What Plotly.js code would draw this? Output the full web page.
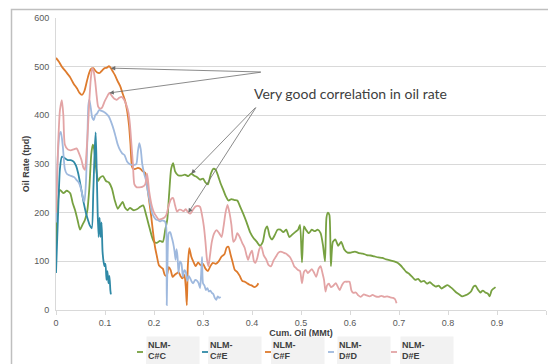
<!DOCTYPE html>
<html>
<head>
<meta charset="utf-8">
<script src="https://cdn.plot.ly/plotly-3.0.1.min.js"></script>
<style>
  html, body { margin: 0; padding: 0; background: #ffffff; }
  #chart { width: 548px; height: 364px; }
</style>
</head>
<body>
<div id="chart"></div>
<script>
// Cumulative oil (MMt) vs oil rate (tpd) for five wells
const seriesNames = ["NLM-C#C", "NLM-C#E", "NLM-C#F", "NLM-D#D", "NLM-D#E"];
const legendLabels = ["NLM-<br>C#C", "NLM-<br>C#E", "NLM-<br>C#F", "NLM-<br>D#D", "NLM-<br>D#E"];
const seriesColors = ["#77a141", "#2f89a6", "#de7b2d", "#9fb9de", "#e3a4a5"];

const xTicks = [0, 0.1, 0.2, 0.3, 0.4, 0.5, 0.6, 0.7, 0.8, 0.9, 1];
const xTickText = ["0", "0.1", "0.2", "0.3", "0.4", "0.5", "0.6", "0.7", "0.8", "0.9", "1"];
const yTicks = [0, 100, 200, 300, 400, 500, 600];

const cumCC = [0.000,0.004,0.008,0.015,0.022,0.029,0.034,0.039,0.044,0.049,0.054,0.059,0.064,0.068,0.072,0.075,0.078,0.082,0.086,0.090,0.096,0.102,0.108,0.114,0.120,0.126,0.131,0.136,0.141,0.146,0.151,0.158,0.165,0.172,0.178,0.184,0.190,0.196,0.200,0.206,0.212,0.218,0.223,0.227,0.231,0.235,0.239,0.243,0.249,0.256,0.263,0.270,0.276,0.282,0.288,0.294,0.300,0.305,0.310,0.316,0.321,0.326,0.331,0.336,0.341,0.346,0.352,0.358,0.364,0.370,0.376,0.382,0.389,0.396,0.403,0.410,0.416,0.422,0.427,0.431,0.436,0.441,0.447,0.452,0.458,0.464,0.470,0.476,0.482,0.488,0.494,0.498,0.502,0.506,0.510,0.516,0.522,0.528,0.534,0.540,0.545,0.549,0.552,0.555,0.558,0.561,0.565,0.570,0.576,0.582,0.588,0.595,0.602,0.610,0.618,0.626,0.634,0.642,0.650,0.658,0.666,0.674,0.682,0.690,0.697,0.703,0.709,0.715,0.721,0.727,0.733,0.739,0.745,0.751,0.757,0.763,0.769,0.775,0.781,0.787,0.793,0.799,0.805,0.811,0.817,0.823,0.829,0.835,0.841,0.847,0.852,0.856,0.861,0.866,0.871,0.876,0.881,0.885,0.889,0.893,0.897];
const rateCC = [130,225,247,240,245,240,220,205,185,165,175,185,205,250,320,340,330,290,265,272,275,265,262,250,225,208,215,222,210,205,210,205,207,212,215,195,172,150,140,138,142,140,165,185,240,290,302,285,277,276,278,275,280,276,273,268,270,262,258,280,290,288,275,260,248,235,225,228,226,225,212,198,180,160,148,140,132,140,165,172,152,145,155,165,165,160,165,150,155,160,165,175,98,172,165,158,165,162,165,158,132,100,190,200,195,90,140,145,132,140,125,118,118,120,117,116,113,112,110,108,107,104,102,100,97,92,85,78,74,68,62,64,58,60,54,57,52,48,50,44,48,51,47,42,36,32,28,30,33,38,48,50,42,36,40,36,34,28,40,44,47];

const cumCE = [0.000,0.004,0.008,0.012,0.018,0.024,0.030,0.036,0.041,0.045,0.049,0.053,0.057,0.061,0.065,0.069,0.073,0.076,0.079,0.081,0.083,0.085,0.087,0.089,0.091,0.093,0.095,0.097,0.099,0.101,0.103,0.105,0.107,0.109,0.111,0.112];
const rateCE = [76,190,290,315,312,308,308,305,296,282,262,240,218,200,186,174,168,240,330,365,290,200,150,190,150,180,120,100,90,95,62,80,55,70,40,32];

const cumCF = [0.000,0.006,0.012,0.020,0.029,0.036,0.043,0.048,0.053,0.058,0.063,0.067,0.071,0.076,0.080,0.084,0.089,0.094,0.099,0.104,0.108,0.112,0.116,0.120,0.126,0.131,0.136,0.141,0.145,0.149,0.152,0.155,0.158,0.162,0.167,0.172,0.177,0.182,0.186,0.190,0.194,0.198,0.202,0.206,0.210,0.214,0.218,0.222,0.226,0.230,0.234,0.238,0.242,0.246,0.250,0.254,0.258,0.262,0.265,0.267,0.269,0.272,0.276,0.280,0.285,0.290,0.295,0.300,0.305,0.310,0.315,0.320,0.326,0.332,0.338,0.344,0.348,0.352,0.356,0.360,0.365,0.370,0.375,0.380,0.385,0.390,0.395,0.400,0.405,0.410,0.413];
const rateCF = [518,510,500,490,478,465,455,446,442,450,470,485,495,497,492,488,487,492,497,498,501,497,490,483,470,460,445,430,410,380,340,295,290,290,292,290,285,282,255,225,195,160,130,110,92,88,85,72,70,88,82,68,72,75,78,70,65,72,45,10,90,127,110,100,90,98,92,95,85,80,90,97,95,100,110,115,128,130,115,100,82,78,70,60,58,55,52,50,47,50,55];

const cumDD = [0.000,0.003,0.007,0.010,0.014,0.018,0.022,0.027,0.032,0.037,0.042,0.047,0.052,0.055,0.058,0.061,0.064,0.066,0.068,0.071,0.074,0.077,0.080,0.084,0.088,0.093,0.098,0.103,0.108,0.113,0.118,0.122,0.126,0.130,0.135,0.140,0.145,0.150,0.155,0.160,0.164,0.167,0.170,0.173,0.176,0.180,0.184,0.188,0.192,0.196,0.200,0.204,0.208,0.212,0.216,0.220,0.223,0.225,0.226,0.228,0.230,0.233,0.236,0.239,0.242,0.244,0.246,0.248,0.250,0.253,0.256,0.259,0.262,0.265,0.268,0.271,0.274,0.277,0.280,0.284,0.288,0.291,0.294,0.296,0.298,0.300,0.303,0.306,0.309,0.312,0.315,0.318,0.321,0.324,0.327,0.330,0.333,0.336];
const rateDD = [180,300,360,366,335,290,280,277,275,273,267,261,245,230,222,260,350,420,432,415,395,390,400,404,411,409,407,403,397,385,370,355,340,330,322,318,305,300,298,298,300,325,343,330,300,280,265,240,220,200,191,186,185,182,184,183,181,170,10,120,158,160,150,138,120,103,125,110,76,100,95,68,82,78,60,70,65,58,55,62,60,55,45,70,109,55,50,41,45,38,40,35,33,25,21,28,25,27];

const cumDE = [0.000,0.004,0.008,0.012,0.015,0.018,0.024,0.030,0.036,0.042,0.047,0.052,0.056,0.059,0.062,0.065,0.068,0.071,0.074,0.077,0.080,0.083,0.086,0.090,0.094,0.099,0.104,0.109,0.114,0.119,0.124,0.129,0.134,0.139,0.144,0.148,0.151,0.154,0.157,0.160,0.165,0.170,0.176,0.182,0.186,0.190,0.196,0.200,0.205,0.210,0.215,0.220,0.225,0.230,0.235,0.239,0.243,0.247,0.251,0.255,0.260,0.265,0.270,0.274,0.279,0.284,0.289,0.294,0.298,0.302,0.305,0.308,0.311,0.314,0.318,0.323,0.328,0.333,0.338,0.342,0.346,0.350,0.354,0.358,0.362,0.366,0.370,0.375,0.380,0.385,0.389,0.392,0.396,0.400,0.404,0.407,0.411,0.415,0.419,0.424,0.429,0.434,0.439,0.444,0.449,0.454,0.459,0.464,0.469,0.474,0.478,0.482,0.486,0.490,0.494,0.498,0.502,0.506,0.510,0.514,0.518,0.522,0.526,0.531,0.536,0.540,0.544,0.547,0.550,0.553,0.557,0.561,0.566,0.571,0.575,0.579,0.584,0.589,0.594,0.599,0.603,0.607,0.612,0.617,0.622,0.628,0.634,0.640,0.646,0.652,0.658,0.664,0.670,0.676,0.682,0.688,0.692,0.695];
const rateDE = [200,330,410,431,400,340,330,328,330,332,322,308,292,288,320,370,430,475,497,490,470,440,418,414,416,428,438,446,440,434,432,436,438,432,420,405,380,340,300,258,252,252,253,258,280,245,212,200,192,186,187,189,195,215,228,230,215,202,206,206,203,207,200,198,205,212,214,212,195,170,140,105,90,110,140,158,164,158,150,172,200,216,200,175,140,145,158,150,138,128,112,103,115,122,100,97,108,125,130,112,104,92,90,102,110,118,120,118,116,112,108,100,90,86,82,80,55,78,82,76,80,84,78,68,85,90,75,62,38,50,54,47,50,55,48,41,52,58,58,58,40,35,36,30,27,32,30,28,31,28,27,29,27,28,26,25,22,14];

const cumSeries = [cumCC, cumCE, cumCF, cumDD, cumDE];
const rateSeries = [rateCC, rateCE, rateCF, rateDD, rateDE];

// plot-area geometry in pixels, used to place the custom legend and frame
const W = 548, H = 364;
const M = { l: 56, r: 2, t: 18, b: 54 };
const plotW = W - M.l - M.r, plotH = H - M.t - M.b;
const px2x = p => (p - M.l) / plotW;
const py2y = p => (H - M.b - p) / plotH;

const traces = cumSeries.map((xs, i) => ({
  type: "scatter",
  mode: "lines",
  name: seriesNames[i],
  x: xs,
  y: rateSeries[i],
  line: { color: seriesColors[i], width: 1.8, shape: "spline", smoothing: 0.6 },
  showlegend: false,
  hoverinfo: "x+y+name"
}));

// nearest recorded point of a series to a given cumulative value
function pointAt(idx, xv) {
  const xs = cumSeries[idx], ys = rateSeries[idx];
  let best = 0;
  xs.forEach((v, k) => { if (Math.abs(v - xv) < Math.abs(xs[best] - xv)) best = k; });
  return { x: xs[best], y: ys[best] };
}

const arrowTargets = [
  { s: 2, at: 0.112, tail: [0.421, 489] },
  { s: 4, at: 0.109, tail: [0.421, 489] },
  { s: 0, at: 0.276, tail: [0.410, 419] },
  { s: 4, at: 0.270, tail: [0.410, 419] }
];

const annotations = arrowTargets.map(a => {
  const p = pointAt(a.s, a.at);
  return {
    x: p.x, y: p.y, xref: "x", yref: "y",
    ax: a.tail[0], ay: a.tail[1], axref: "x", ayref: "y",
    text: "", showarrow: true,
    arrowhead: 2, arrowsize: 1.1, arrowwidth: 0.8, arrowcolor: "#6d6d6d",
    standoff: 0, startstandoff: 0
  };
});

annotations.push({
  x: 0.602, y: 444, xref: "x", yref: "y",
  text: "Very good correlation in oil rate",
  showarrow: false, xanchor: "center", yanchor: "middle",
  font: { family: "Lato, 'Open Sans', sans-serif", size: 14, color: "#404040" }
});

// legend: short line sample followed by a grey label box
const legendLinePx = [137, 202, 265, 328, 391];
const legendBoxPx = [146, 208, 271, 337, 400];
const shapes = [];

legendLabels.forEach((lab, i) => {
  annotations.push({
    xref: "paper", yref: "paper",
    x: px2x(legendBoxPx[i]), y: py2y(336),
    xanchor: "left", yanchor: "top",
    width: 50, height: 25, align: "left", valign: "middle",
    bgcolor: "#f2f2f2", borderpad: 1,
    showarrow: false, text: "<b>" + lab + "</b>",
    font: { family: "Liberation Sans, Arial, sans-serif", size: 9, color: "#404040" }
  });
  shapes.push({
    type: "line", xref: "paper", yref: "paper",
    x0: px2x(legendLinePx[i]), x1: px2x(legendLinePx[i] + 6),
    y0: py2y(352), y1: py2y(352),
    line: { color: seriesColors[i], width: 1.8 }
  });
});

// grey fill continuing the label boxes down to the page edge
legendBoxPx.forEach(p => {
  shapes.push({
    type: "rect", xref: "paper", yref: "paper",
    x0: px2x(p), x1: px2x(p + 52), y0: py2y(350), y1: py2y(372),
    line: { width: 0 }, fillcolor: "#f2f2f2", layer: "below"
  });
});

// outer chart frame
shapes.push({
  type: "rect", xref: "paper", yref: "paper",
  x0: px2x(11.5), x1: px2x(580), y0: py2y(9.5), y1: py2y(400),
  line: { color: "#bfbfbf", width: 1.5 }, fillcolor: "rgba(0,0,0,0)", layer: "below"
});

const layout = {
  width: W, height: H,
  margin: M,
  paper_bgcolor: "#ffffff",
  plot_bgcolor: "#ffffff",
  showlegend: false,
  font: { family: "Liberation Sans, Arial, sans-serif", size: 9, color: "#595959" },
  xaxis: {
    range: [0, 1],
    tickvals: xTicks, ticktext: xTickText,
    showgrid: false, zeroline: false,
    showline: true, linecolor: "#d9d9d9", linewidth: 1,
    ticks: "outside", ticklen: 4, tickcolor: "#d9d9d9",
    tickfont: { size: 9, color: "#595959" },
    title: { text: "<b>Cum. Oil (MMt)</b>", standoff: 0, font: { size: 9, color: "#404040" } }
  },
  yaxis: {
    range: [0, 600],
    tickvals: yTicks,
    showgrid: true, gridcolor: "#d9d9d9", gridwidth: 1,
    zeroline: false,
    showline: true, linecolor: "#d9d9d9", linewidth: 1,
    ticks: "", ticklabelstandoff: 4,
    tickfont: { size: 9, color: "#595959" },
    title: { text: "<b>Oil Rate (tpd)</b>", standoff: 3, font: { size: 9, color: "#404040" } }
  },
  annotations: annotations,
  shapes: shapes
};

Plotly.newPlot("chart", traces, layout, { staticPlot: true, displayModeBar: false });
</script>
</body>
</html>
